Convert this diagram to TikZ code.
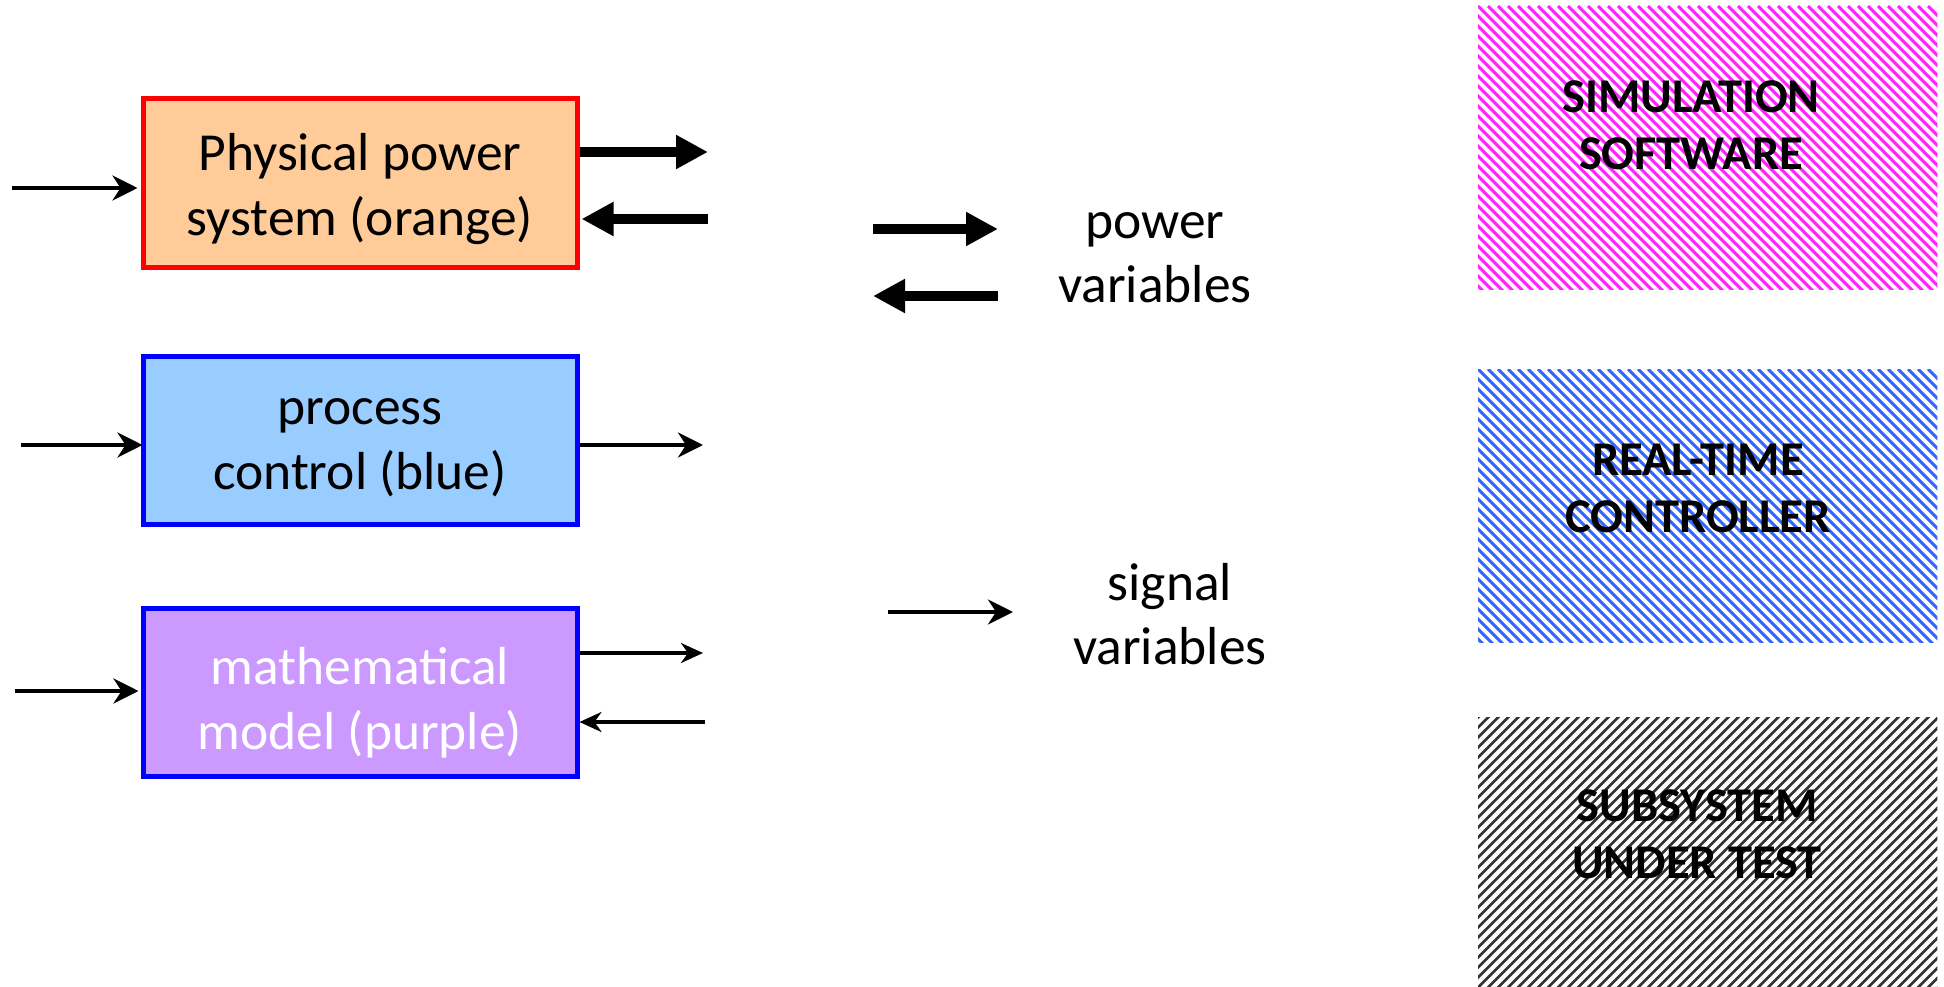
\documentclass[tikz,border=0pt]{standalone}
\usepackage{fontspec}
\setmainfont{Carlito}
\usetikzlibrary{arrows.meta,calc}
\definecolor{orfill}{HTML}{FFCC99}
\definecolor{orline}{HTML}{FF0000}
\definecolor{blfill}{HTML}{99CCFF}
\definecolor{blline}{HTML}{0000FF}
\definecolor{pufill}{HTML}{CC99FF}
\definecolor{hpink}{HTML}{FF22FF}
\definecolor{hblue}{HTML}{3366FF}
\definecolor{hgray}{HTML}{333333}
\begin{document}
\begin{tikzpicture}[x=1pt,y=-1pt,
  blk/.style={rectangle, minimum width=434pt, minimum height=168pt, line width=5pt, inner sep=0pt},
  blktext/.style={font=\fontsize{53.5}{65}\selectfont, align=center, inner sep=0pt},
  thinarr/.style={line width=4pt, -{Stealth[length=25pt,width=25pt,inset=8pt]}},
  thinnerarr/.style={line width=3.5pt, -{Stealth[length=22pt,width=20pt,inset=7pt]}},
  thickarr/.style={line width=10pt, -{Triangle[length=32pt,width=32pt]}},
  legtext/.style={font=\fontsize{53.5}{64}\selectfont, align=center, inner sep=0pt},
  hbox/.style={rectangle, minimum width=459pt, inner sep=0pt},
  hatchtxt/.style={font=\fontsize{48.5}{57}\selectfont\bfseries, align=center, inner sep=0pt, anchor=base},
  stripe/.style={line width=2.9pt}
]
\useasboundingbox (0,0) rectangle (1944,987);

% --- left blocks
\node[blk, draw=orline, fill=orfill] (phys) at (360,183) {};
\node[blk, draw=blline, fill=blfill] (proc) at (360,440) {};
\node[blk, draw=blline, fill=pufill] (math) at (360,692) {};
\node[blktext] (physt) at ($(phys.center)+(0,6)$) {Physical power\\system (orange)};
\node[blktext] (proct) at ($(proc.center)+(0,8)$) {process\\control (blue)};
\node[blktext, text=white] (matht) at ($(math.center)+(0,11)$) {mathematical\\model (purple)};

% --- free ends
\coordinate (physin) at (12,188);
\coordinate (physout) at (708,152);
\coordinate (physret) at (708,219);
\coordinate (procin) at (21,445);
\coordinate (procout) at (703,445);
\coordinate (mathin) at (15,691);
\coordinate (mathout) at (703,653);
\coordinate (mathret) at (705,722);

\draw[thinarr] (physin) -- ([xshift=-3pt]physin -| phys.west);
\draw[thickarr] (physout -| phys.east) -- (physout);
\draw[thickarr] (physret) -- ([xshift=2pt]physret -| phys.east);

\draw[thinarr] (procin) -- ([xshift=2pt]procin -| proc.west);
\draw[thinarr] (procout -| proc.east) -- (procout);

\draw[thinarr] (mathin) -- ([xshift=-2pt]mathin -| math.west);
\draw[thinnerarr] (mathout -| math.east) -- (mathout);
\draw[thinnerarr] (mathret) -- (mathret -| math.east);

% --- legend
\node[legtext] (powtxt) at (1155,258) {power\\variables};
\node[legtext] (sigtxt) at (1170,614) {signal\\variables};
\coordinate (pa1) at (873,229);
\coordinate (pa1e) at (998,229);
\coordinate (pa2) at (998,296);
\coordinate (pa2e) at (873,296);
\coordinate (sa1) at (888,612);
\coordinate (sa1e) at (1013,612);
\draw[thickarr] (pa1) -- (pa1e);
\draw[thickarr] (pa2) -- (pa2e);
\draw[thinarr] (sa1) -- (sa1e);

% --- hatched boxes
\node[hbox, minimum height=283pt, anchor=north west] (simbox) at (1478,6) {};
\node[hbox, minimum height=273pt, anchor=north west] (rtbox) at (1478,369) {};
\node[hbox, minimum height=280pt, anchor=north west] (subbox) at (1478,717) {};

\begin{scope}
  \clip (simbox.north west) rectangle (simbox.south east);
  \foreach \i in {-300,-290,...,470}
    \draw[stripe, hpink] ($(simbox.north west)+(\i,0)$) -- ++(290,290);
\end{scope}
\begin{scope}
  \clip (rtbox.north west) rectangle (rtbox.south east);
  \foreach \i in {-290,-280,...,470}
    \draw[stripe, hblue] ($(rtbox.north west)+(\i,0)$) -- ++(280,280);
\end{scope}
\begin{scope}
  \clip (subbox.north west) rectangle (subbox.south east);
  \foreach \i in {-290,-280,...,470}
    \draw[stripe, hgray, line width=2.6pt] ($(subbox.south west)+(\i,0)$) -- ++(290,-290);
\end{scope}

\node[hatchtxt] (simtxt) at (1691,170) {SIMULATION\\SOFTWARE};
\node[hatchtxt] (rttxt) at (1698,532) {REAL-TIME\\CONTROLLER};
\node[hatchtxt] (subtxt) at (1697,878) {SUBSYSTEM\\UNDER TEST};
\end{tikzpicture}
\end{document}
